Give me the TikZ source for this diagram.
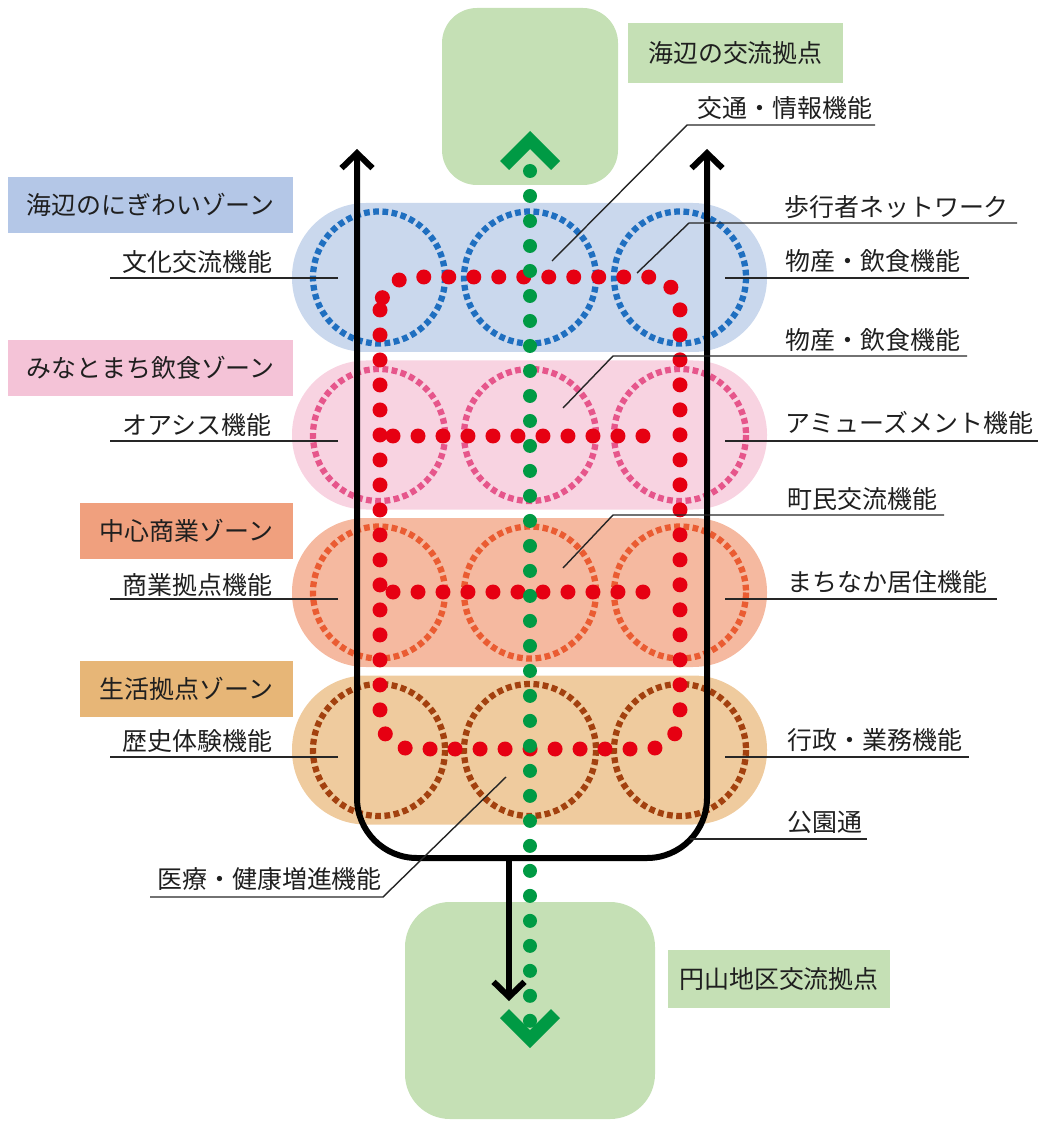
\documentclass[tikz,border=0pt]{standalone}
\usepackage{fontspec}
\setmainfont{Noto Sans CJK JP}
\usetikzlibrary{arrows.meta, positioning}

\definecolor{seaFill}{HTML}{CAD8ED}
\definecolor{seaTag}{HTML}{B4C7E7}
\definecolor{seaDash}{HTML}{1F6FC0}
\definecolor{portFill}{HTML}{F8D3E1}
\definecolor{portTag}{HTML}{F4C3D7}
\definecolor{portDash}{HTML}{E6568B}
\definecolor{shopFill}{HTML}{F5B9A0}
\definecolor{shopTag}{HTML}{F0A07E}
\definecolor{shopDash}{HTML}{EA5C32}
\definecolor{lifeFill}{HTML}{EFCB9E}
\definecolor{lifeTag}{HTML}{E7B677}
\definecolor{lifeDash}{HTML}{A3410F}
\definecolor{hubGreen}{HTML}{C5E0B5}
\definecolor{walkGreen}{HTML}{009A44}
\definecolor{netRed}{HTML}{E60012}

\begin{document}
\begin{tikzpicture}[x=0.02cm, y=-0.02cm,
    txt/.style={font=\fontsize{14.2pt}{17pt}\selectfont, text=black!88, inner sep=0pt},
    tagbox/.style={txt, minimum height=1.12cm},
    zone/.style={rounded corners=1.48cm},
    ring/.style={line width=0.125cm, dash pattern=on 0.115cm off 0.07cm},
    leader/.style={line width=0.8pt, black!85},
    road/.style={line width=0.12cm, black, line join=round},
    barb/.tip={Straight Barb[length=0.3cm, width=0.62cm]},
    reddots/.style={netRed, line width=0.3cm, line cap=round, dash pattern=on 0pt off 0.5cm},
    greendots/.style={walkGreen, line width=0.28cm, line cap=round, dash pattern=on 0pt off 0.5cm}]
			\useasboundingbox (0,0) rectangle (1038,1121);
			
			% Exchange hubs
			\fill[hubGreen, rounded corners=0.7cm] (442,8) rectangle (618,185);
			\fill[hubGreen, rounded corners=0.9cm] (405,902) rectangle (655,1119);
			
			% Zones
			\fill[zone, seaFill] (292,203) rectangle (767,352);
			\fill[zone, portFill] (292,360.5) rectangle (767,509.5);
			\fill[zone, shopFill] (292,518) rectangle (767,667);
			\fill[zone, lifeFill] (292,675.5) rectangle (767,824.5);
			
			% Function circles
			\draw[ring, seaDash] (379,277.5) circle (66);
			\draw[ring, seaDash] (530,277.5) circle (66);
			\draw[ring, seaDash] (680,277.5) circle (66);
			\draw[ring, portDash] (379,435) circle (66);
			\draw[ring, portDash] (530,435) circle (66);
			\draw[ring, portDash] (680,435) circle (66);
			\draw[ring, shopDash] (379,592.5) circle (66);
			\draw[ring, shopDash] (530,592.5) circle (66);
			\draw[ring, shopDash] (680,592.5) circle (66);
			\draw[ring, lifeDash] (379,750) circle (66);
			\draw[ring, lifeDash] (530,750) circle (66);
			\draw[ring, lifeDash] (680,750) circle (66);
			
			% Pedestrian network
			\coordinate (netTL) at (380,277);
			\coordinate (netBR) at (680,749);
			\draw[reddots, rounded corners=0.66cm] (netTL) rectangle (netBR);
			\coordinate (netA) at (393,436);
			\coordinate (netB) at (667,436);
			\coordinate (netC) at (393,592);
			\coordinate (netD) at (667,592);
			\draw[reddots] (netA) -- (netB);
			\draw[reddots] (netC) -- (netD);
			
			% Park street
			\coordinate (parkL) at (357,149);
			\coordinate (parkBL) at (357,858);
			\coordinate (parkBR) at (707,858);
			\coordinate (parkR) at (707,149);
			\draw[road, rounded corners=1.2cm, barb-barb] (parkL) -- (parkBL) -- (parkBR) -- (parkR);
			\coordinate (parkOut) at (509,858);
			\coordinate (parkTip) at (509,1001);
			\draw[road, -barb] (parkOut) -- (parkTip);
			
			% Traffic axis
			\coordinate (walkTop) at (530,171);
			\coordinate (walkEnd) at (530,1021);
			\draw[greendots] (walkTop) -- (walkEnd);
			\fill[walkGreen] (530,131) -- (560,161) -- (551,170) -- (530,149) -- (509,170) -- (500,161) -- cycle;
			\fill[walkGreen] (530,1048) -- (560,1018) -- (551,1009) -- (530,1030) -- (509,1009) -- (500,1018) -- cycle;
			
			% Tags
			\node[txt, fill=hubGreen, minimum width=4.3cm, minimum height=1.2cm] (seaHubTag) at (735.5,53) {海辺の交流拠点};
			\node[txt, fill=hubGreen, minimum width=4.44cm, minimum height=1.16cm] (maruHubTag) at (779,979) {円山地区交流拠点};
			\node[tagbox, fill=seaTag, minimum width=5.7cm] (seaTagN) at (150.5,205) {海辺のにぎわいゾーン};
			\node[tagbox, fill=portTag, minimum width=5.7cm] (portTagN) at (150.5,368) {みなとまち飲食ゾーン};
			\node[tagbox, fill=shopTag, minimum width=4.26cm] (shopTagN) at (186.5,531) {中心商業ゾーン};
			\node[tagbox, fill=lifeTag, minimum width=4.26cm] (lifeTagN) at (186.5,688.5) {生活拠点ゾーン};
			
			% Left labels
			\coordinate (bunkaPin) at (338,278);
			\coordinate (bunkaEnd) at (110,278);
			\draw[leader] (bunkaPin) -- (bunkaEnd);
			\node[txt, anchor=west] (bunka) at (122,262) {文化交流機能};
			
			\coordinate (oasisPin) at (338,441);
			\coordinate (oasisEnd) at (110,441);
			\draw[leader] (oasisPin) -- (oasisEnd);
			\node[txt, anchor=west] (oasis) at (122,425) {オアシス機能};
			
			\coordinate (shogyoPin) at (338,599);
			\coordinate (shogyoEnd) at (110,599);
			\draw[leader] (shogyoPin) -- (shogyoEnd);
			\node[txt, anchor=west] (shogyo) at (122,585) {商業拠点機能};
			
			\coordinate (rekishiPin) at (338,757);
			\coordinate (rekishiEnd) at (110,757);
			\draw[leader] (rekishiPin) -- (rekishiEnd);
			\node[txt, anchor=west] (rekishi) at (122,741) {歴史体験機能};
			
			\coordinate (iryoPin) at (506,777);
			\coordinate (iryoBend) at (383,897);
			\coordinate (iryoEnd) at (150,897);
			\draw[leader] (iryoPin) -- (iryoBend) -- (iryoEnd);
			\node[txt, anchor=west] (iryo) at (157,879) {医療・健康増進機能};
			
			% Right labels
			\coordinate (kotsuPin) at (552,261);
			\coordinate (kotsuBend) at (687,125);
			\coordinate (kotsuEnd) at (875,125);
			\draw[leader] (kotsuPin) -- (kotsuBend) -- (kotsuEnd);
			\node[txt, anchor=west] (kotsu) at (697,108) {交通・情報機能};
			
			\coordinate (hokoPin) at (637,273);
			\coordinate (hokoBend) at (689,223);
			\coordinate (hokoEnd) at (1017,223);
			\draw[leader] (hokoPin) -- (hokoBend) -- (hokoEnd);
			\node[txt, anchor=west] (hoko) at (784,207) {歩行者ネットワーク};
			
			\coordinate (bussanPin) at (725,278);
			\coordinate (bussanEnd) at (969,278);
			\draw[leader] (bussanPin) -- (bussanEnd);
			\node[txt, anchor=west] (bussan) at (785,261) {物産・飲食機能};
			
			\coordinate (inshokuPin) at (563,408);
			\coordinate (inshokuBend) at (613,356);
			\coordinate (inshokuEnd) at (967,356);
			\draw[leader] (inshokuPin) -- (inshokuBend) -- (inshokuEnd);
			\node[txt, anchor=west] (inshoku) at (785,340) {物産・飲食機能};
			
			\coordinate (amusePin) at (725,441);
			\coordinate (amuseEnd) at (1038,441);
			\draw[leader] (amusePin) -- (amuseEnd);
			\node[txt, anchor=west] (amuse) at (785,423) {アミューズメント機能};
			
			\coordinate (chominPin) at (563,568);
			\coordinate (chominBend) at (613,515);
			\coordinate (chominEnd) at (944,515);
			\draw[leader] (chominPin) -- (chominBend) -- (chominEnd);
			\node[txt, anchor=west] (chomin) at (787,499) {町民交流機能};
			
			\coordinate (kyojuPin) at (725,599);
			\coordinate (kyojuEnd) at (997,599);
			\draw[leader] (kyojuPin) -- (kyojuEnd);
			\node[txt, anchor=west] (kyoju) at (787,582) {まちなか居住機能};
			
			\coordinate (gyoseiPin) at (725,757);
			\coordinate (gyoseiEnd) at (969,757);
			\draw[leader] (gyoseiPin) -- (gyoseiEnd);
			\node[txt, anchor=west] (gyosei) at (787,740) {行政・業務機能};
			
			\coordinate (koenPin) at (690,839);
			\coordinate (koenEnd) at (867,839);
			\draw[leader] (koenPin) -- (koenEnd);
			\node[txt, anchor=west] (koen) at (787,822) {公園通};
\end{tikzpicture}
\end{document}
